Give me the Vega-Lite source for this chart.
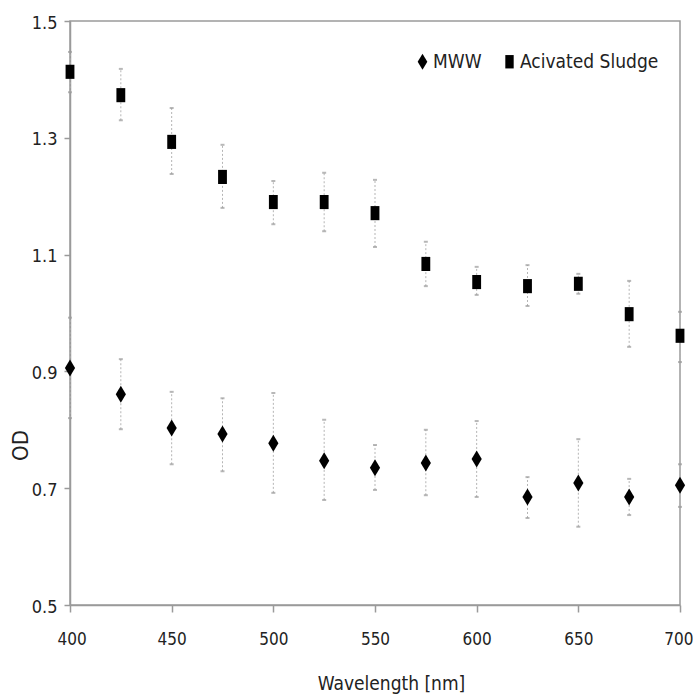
{
  "$schema": "https://vega.github.io/schema/vega-lite/v6.json",
  "width": 610,
  "height": 584,
  "autosize": {"type": "none"},
  "padding": {"left": 70, "top": 21, "right": 13, "bottom": 93},
  "background": "white",
  "data": {
    "values": [
      {"series": "MWW", "wl": 400, "od": 0.906, "lo": 0.820, "hi": 0.992},
      {"series": "MWW", "wl": 425, "od": 0.861, "lo": 0.801, "hi": 0.921},
      {"series": "MWW", "wl": 450, "od": 0.803, "lo": 0.741, "hi": 0.865},
      {"series": "MWW", "wl": 475, "od": 0.793, "lo": 0.729, "hi": 0.854},
      {"series": "MWW", "wl": 500, "od": 0.777, "lo": 0.692, "hi": 0.863},
      {"series": "MWW", "wl": 525, "od": 0.747, "lo": 0.680, "hi": 0.817},
      {"series": "MWW", "wl": 550, "od": 0.735, "lo": 0.697, "hi": 0.774},
      {"series": "MWW", "wl": 575, "od": 0.743, "lo": 0.688, "hi": 0.800},
      {"series": "MWW", "wl": 600, "od": 0.750, "lo": 0.685, "hi": 0.815},
      {"series": "MWW", "wl": 625, "od": 0.685, "lo": 0.649, "hi": 0.719},
      {"series": "MWW", "wl": 650, "od": 0.709, "lo": 0.634, "hi": 0.784},
      {"series": "MWW", "wl": 675, "od": 0.685, "lo": 0.654, "hi": 0.716},
      {"series": "MWW", "wl": 700, "od": 0.705, "lo": 0.668, "hi": 0.741},
      {"series": "Acivated Sludge", "wl": 400, "od": 1.413, "lo": 1.378, "hi": 1.447},
      {"series": "Acivated Sludge", "wl": 425, "od": 1.373, "lo": 1.330, "hi": 1.418},
      {"series": "Acivated Sludge", "wl": 450, "od": 1.293, "lo": 1.238, "hi": 1.351},
      {"series": "Acivated Sludge", "wl": 475, "od": 1.233, "lo": 1.180, "hi": 1.288},
      {"series": "Acivated Sludge", "wl": 500, "od": 1.190, "lo": 1.152, "hi": 1.226},
      {"series": "Acivated Sludge", "wl": 525, "od": 1.190, "lo": 1.140, "hi": 1.240},
      {"series": "Acivated Sludge", "wl": 550, "od": 1.171, "lo": 1.113, "hi": 1.228},
      {"series": "Acivated Sludge", "wl": 575, "od": 1.084, "lo": 1.046, "hi": 1.122},
      {"series": "Acivated Sludge", "wl": 600, "od": 1.053, "lo": 1.031, "hi": 1.079},
      {"series": "Acivated Sludge", "wl": 625, "od": 1.046, "lo": 1.012, "hi": 1.082},
      {"series": "Acivated Sludge", "wl": 650, "od": 1.050, "lo": 1.033, "hi": 1.067},
      {"series": "Acivated Sludge", "wl": 675, "od": 0.998, "lo": 0.942, "hi": 1.055},
      {"series": "Acivated Sludge", "wl": 700, "od": 0.961, "lo": 0.916, "hi": 1.002}
    ]
  },
  "config": {
    "view": {"stroke": "#9a9a9a", "strokeWidth": 1.5},
    "axis": {
      "labelFont": "'DejaVu Sans Condensed', Roboto, sans-serif",
      "titleFont": "'DejaVu Sans Condensed', Roboto, sans-serif",
      "labelColor": "#222",
      "titleColor": "#222",
      "titleFontWeight": "normal",
      "domainColor": "#9a9a9a",
      "domainWidth": 1.5,
      "tickColor": "#9a9a9a",
      "tickWidth": 1.5,
      "grid": false
    }
  },
  "encoding": {
    "x": {
      "field": "wl",
      "type": "quantitative",
      "scale": {"domain": [400, 700], "nice": false, "zero": false},
      "axis": {
        "values": [400, 450, 500, 550, 600, 650, 700],
        "title": "Wavelength [nm]",
        "labelFontSize": 17,
        "labelFlush": true,
        "labelFlushOffset": 13,
        "tickSize": 7,
        "labelPadding": 19,
        "titleFontSize": 19,
        "titleX": 321,
        "titleY": 78,
        "titleBaseline": "middle",
        "titleAnchor": "middle"
      }
    },
    "y": {
      "field": "od",
      "type": "quantitative",
      "scale": {"domain": [0.5, 1.5], "nice": false, "zero": false},
      "axis": {
        "values": [0.5, 0.7, 0.9, 1.1, 1.3, 1.5],
        "format": ".1f",
        "title": "OD",
        "labelFontSize": 18,
        "labelFlush": false,
        "tickSize": 6,
        "labelPadding": 7,
        "labelOffset": 2,
        "titleFontSize": 22,
        "titleAngle": 270,
        "titleX": -50,
        "titleY": 424,
        "titleAlign": "center",
        "titleBaseline": "middle"
      }
    }
  },
  "layer": [
    {
      "mark": {"type": "rule", "color": "#b5b5b5", "strokeWidth": 1, "strokeDash": [2, 2]},
      "encoding": {"y": {"field": "lo", "type": "quantitative"}, "y2": {"field": "hi"}}
    },
    {
      "mark": {"type": "tick", "orient": "horizontal", "color": "#9a9a9a", "size": 4, "thickness": 2},
      "encoding": {"y": {"field": "lo", "type": "quantitative"}}
    },
    {
      "mark": {"type": "tick", "orient": "horizontal", "color": "#9a9a9a", "size": 4, "thickness": 2},
      "encoding": {"y": {"field": "hi", "type": "quantitative"}}
    },
    {
      "mark": {"type": "point", "filled": true, "opacity": 1, "color": "black", "size": 289},
      "encoding": {
        "shape": {
          "field": "series",
          "type": "nominal",
          "scale": {
            "domain": ["MWW", "Acivated Sludge"],
            "range": ["M0,-1L0.6,0L0,1L-0.6,0Z", "M-0.52,-0.83H0.52V0.83H-0.52Z"]
          },
          "legend": {
            "title": null,
            "orient": "none",
            "legendX": 343,
            "legendY": 31,
            "direction": "horizontal",
            "labelFont": "'DejaVu Sans Condensed', Roboto, sans-serif",
            "labelFontSize": 19,
            "labelColor": "#222",
            "symbolSize": 260,
            "symbolFillColor": "black",
            "symbolStrokeColor": "black",
            "symbolStrokeWidth": 0,
            "labelOffset": 1,
            "columnPadding": 18
          }
        }
      }
    }
  ]
}
